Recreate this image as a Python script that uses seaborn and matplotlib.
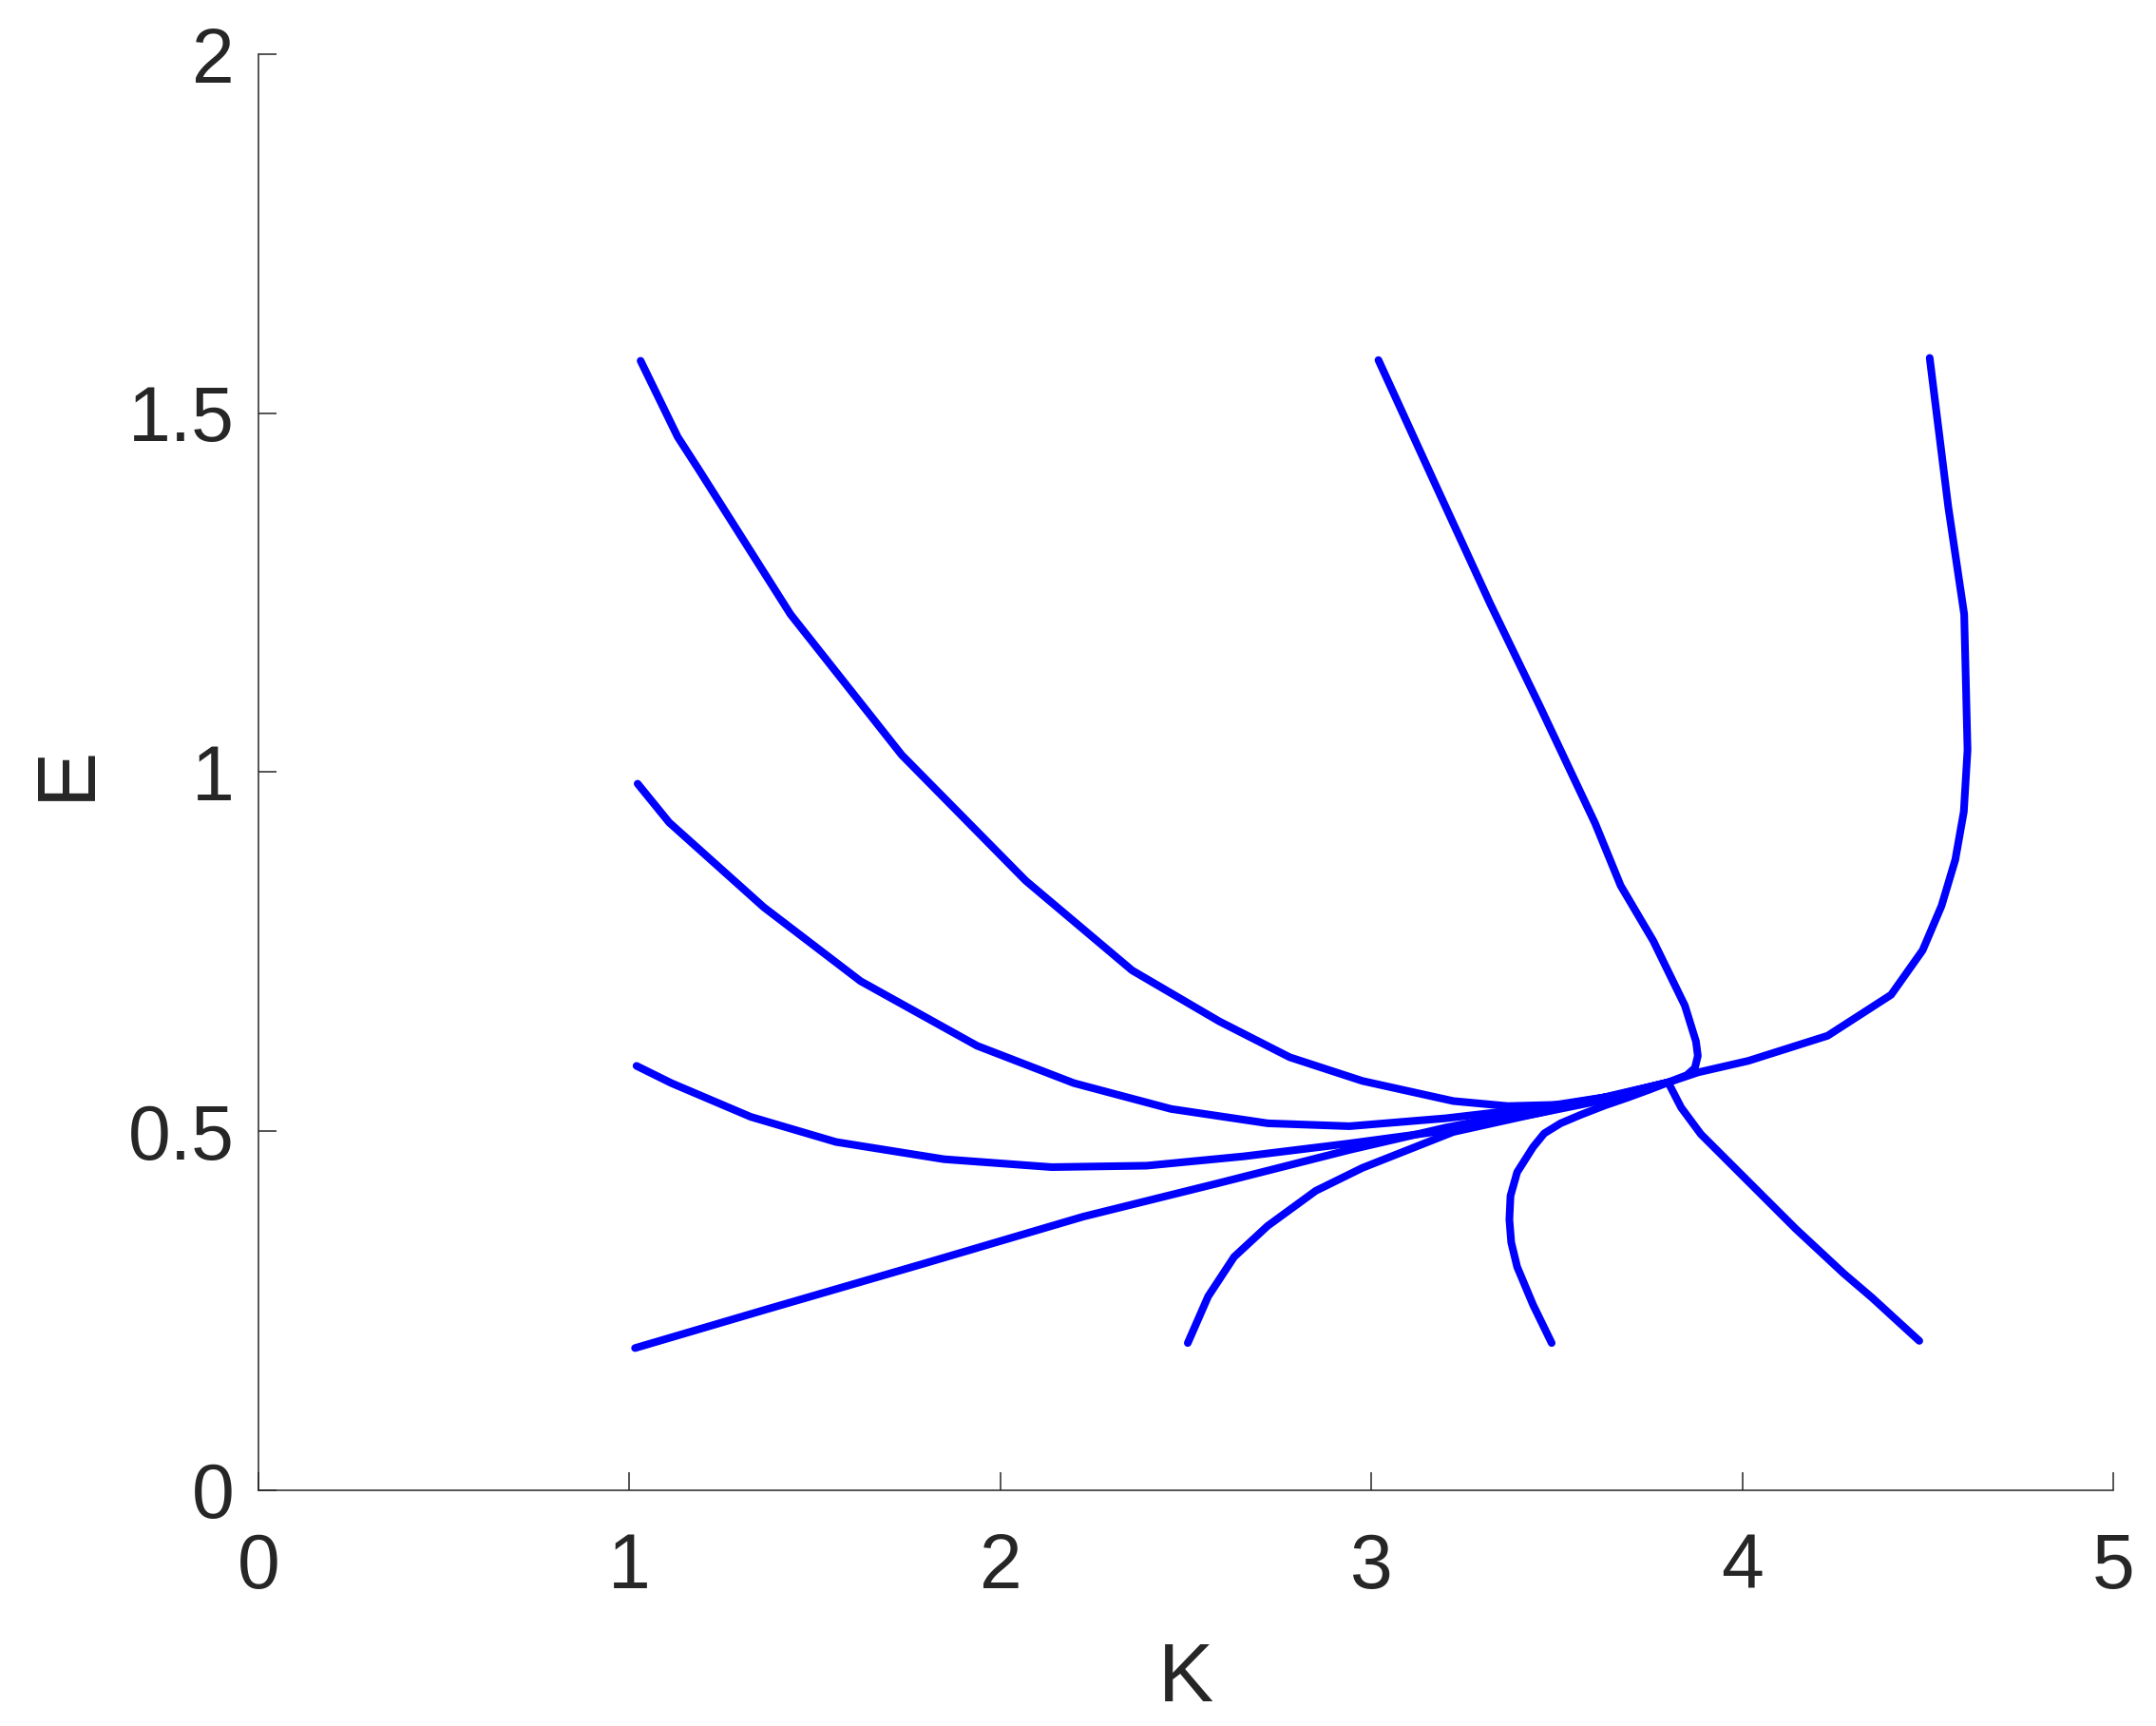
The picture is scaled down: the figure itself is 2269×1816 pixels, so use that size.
import numpy as np
import pandas as pd
import matplotlib
matplotlib.use("Agg")
import matplotlib.pyplot as plt
import seaborn as sns

# --- trajectories (K, E) ---
traj_a_K = [1.03, 1.13, 1.185, 1.434, 1.734, 2.068, 2.355, 2.59, 2.78, 2.976, 3.221, 3.368, 3.515, 3.662, 3.80]
traj_a_E = [1.573, 1.467, 1.423, 1.220, 1.024, 0.849, 0.724, 0.653, 0.603, 0.570, 0.542, 0.535, 0.537, 0.550, 0.568]

traj_b_K = [1.022, 1.107, 1.362, 1.623, 1.937, 2.198, 2.46, 2.721, 2.941, 3.2, 3.45, 3.65, 3.80]
traj_b_E = [0.984, 0.930, 0.812, 0.709, 0.619, 0.567, 0.531, 0.511, 0.507, 0.518, 0.533, 0.549, 0.568]

traj_c_K = [1.019, 1.113, 1.327, 1.557, 1.848, 2.138, 2.394, 2.656, 2.941, 3.172, 3.45, 3.65, 3.80]
traj_c_E = [0.591, 0.567, 0.520, 0.485, 0.461, 0.450, 0.452, 0.465, 0.483, 0.499, 0.525, 0.546, 0.568]

traj_d_K = [1.015, 1.37, 1.796, 2.223, 2.59, 2.941, 3.2, 3.45, 3.65, 3.80]
traj_d_E = [0.198, 0.252, 0.316, 0.381, 0.428, 0.474, 0.505, 0.530, 0.549, 0.568]

traj_e_K = [2.505, 2.56, 2.63, 2.72, 2.85, 2.976, 3.221, 3.466, 3.65, 3.80]
traj_e_E = [0.205, 0.270, 0.325, 0.368, 0.417, 0.449, 0.499, 0.527, 0.550, 0.568]

traj_f_K = [3.486, 3.436, 3.393, 3.377, 3.372, 3.375, 3.393, 3.436, 3.466, 3.51, 3.565, 3.63, 3.692, 3.75, 3.80]
traj_f_E = [0.205, 0.258, 0.311, 0.345, 0.377, 0.41, 0.443, 0.478, 0.497, 0.511, 0.523, 0.536, 0.547, 0.558, 0.568]

traj_g_K = [4.477, 4.426, 4.35, 4.273, 4.144, 4.016, 3.888, 3.835, 3.80]
traj_g_E = [0.208, 0.232, 0.268, 0.302, 0.364, 0.430, 0.496, 0.533, 0.568]

traj_h_K = [4.505, 4.555, 4.598, 4.607, 4.597, 4.574, 4.537, 4.486, 4.401, 4.23, 4.016, 3.881, 3.80]
traj_h_E = [1.577, 1.37, 1.220, 1.031, 0.945, 0.878, 0.814, 0.752, 0.690, 0.633, 0.598, 0.582, 0.568]

traj_i_K = [3.019, 3.158, 3.32, 3.454, 3.603, 3.672, 3.76, 3.845, 3.875, 3.88, 3.872, 3.85, 3.80]
traj_i_E = [1.574, 1.417, 1.235, 1.092, 0.929, 0.842, 0.765, 0.675, 0.625, 0.605, 0.588, 0.578, 0.568]

x_ticks = [0, 1, 2, 3, 4, 5]
x_tick_labels = ["0", "1", "2", "3", "4", "5"]
y_ticks = [0, 0.5, 1, 1.5, 2]
y_tick_labels = ["0", "0.5", "1", "1.5", "2"]

trajs = {
    "a": (traj_a_K, traj_a_E), "b": (traj_b_K, traj_b_E), "c": (traj_c_K, traj_c_E),
    "d": (traj_d_K, traj_d_E), "e": (traj_e_K, traj_e_E), "f": (traj_f_K, traj_f_E),
    "g": (traj_g_K, traj_g_E), "h": (traj_h_K, traj_h_E), "i": (traj_i_K, traj_i_E),
}
df = pd.concat([pd.DataFrame({"K": k, "E": e, "traj": name}) for name, (k, e) in trajs.items()],
               ignore_index=True)

sns.set_theme(style="ticks")
plt.rcParams['font.family'] = ['Liberation Sans', 'DejaVu Sans']
dark = "#262626"

fig = plt.figure(figsize=(22.69, 18.16), dpi=100)
ax = fig.add_axes([0.1199, 0.1366, 0.8603, 0.8320])

sns.lineplot(data=df, x="K", y="E", units="traj", estimator=None, sort=False,
             color=(0, 0, 1), linewidth=5.8, ax=ax)

ax.set_xlim(0, 5)
ax.set_ylim(0, 2)
ax.set_xticks(x_ticks)
ax.set_xticklabels(x_tick_labels)
ax.set_yticks(y_ticks)
ax.set_yticklabels(y_tick_labels)
ax.tick_params(direction="in", length=14, width=1.1, labelsize=58, colors=dark)
ax.tick_params(axis="x", pad=32)
ax.tick_params(axis="y", pad=18)

for s in ["top", "right"]:
    ax.spines[s].set_visible(False)
for s in ["left", "bottom"]:
    ax.spines[s].set_linewidth(1.1)
    ax.spines[s].set_color(dark)

ax.set_xlabel("K", fontsize=63, color=dark)
ax.set_ylabel("E", fontsize=63, color=dark)
ax.xaxis.set_label_coords(0.5, -0.105)
ax.yaxis.set_label_coords(-0.082, 0.5)

fig.savefig("out.png", dpi=100, facecolor="white")
